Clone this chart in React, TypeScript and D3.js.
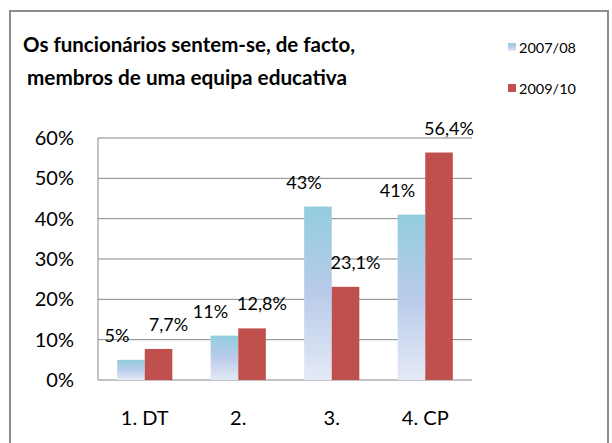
import React from 'react';
import * as d3 from 'd3';

const categories = ['1. DT', '2.', '3.', '4. CP'];
const series = ['2007/08', '2009/10'];
const values0708 = [5, 11, 43, 41];
const values0910 = [7.7, 12.8, 23.1, 56.4];
const labels0708 = ['5%', '11%', '43%', '41%'];
const labels0910 = ['7,7%', '12,8%', '23,1%', '56,4%'];
const yTicks = [0, 10, 20, 30, 40, 50, 60];

const W = 612;
const H = 443;
const font = 'Lato, "Open Sans", sans-serif';

export default function App() {
  // area do grafico
  const left = 98, right = 472, top = 138, bottom = 380;
  const x = d3.scaleBand().domain(categories).range([left, right]).paddingInner(0.41).paddingOuter(0.205);
  const xs = d3.scaleBand().domain(series).range([0, x.bandwidth()]);
  const y = d3.scaleLinear().domain([0, 60]).range([bottom, top]);
  const data = [values0708, values0910];
  const labs = [labels0708, labels0910];

  return (
    <svg width={W} height={H} style={{ position: 'absolute', left: 0, top: 0 }}>
      <defs>
        <linearGradient id="blueGrad" x1="0" y1="0" x2="0" y2="1">
          <stop offset="0" stopColor="#93CDDD" />
          <stop offset="0.5" stopColor="#B9CBEA" />
          <stop offset="1" stopColor="#E4EAF6" />
        </linearGradient>
      </defs>
      <rect x={0} y={0} width={W} height={H} fill="#fff" />
      <rect x={10} y={11} width={598} height={H} fill="#fff" stroke="#8c8c8c" strokeWidth={2} />

      <text x={23} y={52} fontFamily={font} fontWeight="bold" fontSize={21} fill="#000"
        textLength={332} lengthAdjust="spacingAndGlyphs">Os funcionários sentem-se, de facto,</text>
      <text x={27} y={85} fontFamily={font} fontWeight="bold" fontSize={21} fill="#000"
        textLength={320} lengthAdjust="spacingAndGlyphs">membros de uma equipa educativa</text>

      {series.map((s, i) => (
        <g key={s} transform={`translate(508,${i === 0 ? 43 : 84})`}>
          <rect x={0} y={0} width={8} height={8} fill={i === 0 ? 'url(#blueGrad)' : '#C0504D'} />
          <text x={11} y={10} fontFamily={font} fontSize={14} fill="#000"
            textLength={57} lengthAdjust="spacingAndGlyphs">{s}</text>
        </g>
      ))}

      {yTicks.map(t => (
        <g key={t}>
          <line x1={left} x2={right} y1={y(t)} y2={y(t)} stroke="#868686" strokeWidth={1} />
          <text x={74} y={y(t) + 7} textAnchor="end" fontFamily={font} fontSize={20} fill="#000">{t}%</text>
        </g>
      ))}
      <line x1={left} x2={left} y1={top} y2={bottom} stroke="#868686" strokeWidth={1} />

      {categories.map((c, ci) => (
        <g key={c}>
          {series.map((s, si) => {
            const v = data[si][ci];
            const bx = x(c)! + xs(s)!;
            return (
              <g key={s}>
                <rect x={bx} y={y(v)} width={xs.bandwidth()} height={bottom - y(v)}
                  fill={si === 0 ? 'url(#blueGrad)' : '#C0504D'} />
                <text x={bx + xs.bandwidth() / 2 + (si === 0 ? -14 : 10)} y={y(v) - 18}
                  textAnchor="middle" fontFamily={font} fontSize={18} fill="#000">{labs[si][ci]}</text>
              </g>
            );
          })}
          <text x={x(c)! + x.bandwidth() / 2} y={425} textAnchor="middle" fontFamily={font} fontSize={20} fill="#000">{c}</text>
        </g>
      ))}
    </svg>
  );
}
